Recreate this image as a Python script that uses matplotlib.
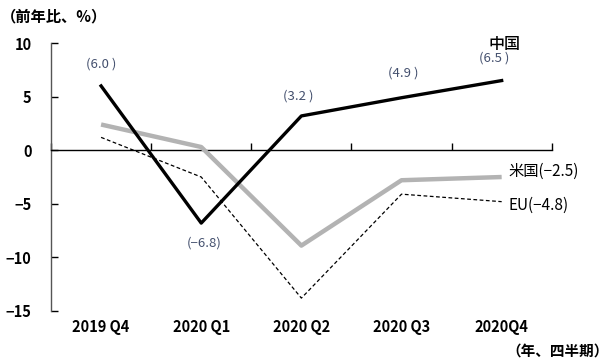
import matplotlib.pyplot as plt
from matplotlib.transforms import blended_transform_factory

plt.rcParams['font.family'] = ['Noto Sans CJK JP', 'DejaVu Sans']

# data
quarters = ['2019 Q4', '2020 Q1', '2020 Q2', '2020 Q3', '2020Q4']
china = [6.0, -6.8, 3.2, 4.9, 6.5]
usa = [2.4, 0.3, -8.9, -2.8, -2.5]
eu = [1.2, -2.5, -13.8, -4.1, -4.8]
china_labels = ['(6.0 )', '(\u22126.8)', '(3.2 )', '(4.9 )', '(6.5 )']
y_ticks = [10, 5, 0, -5, -10, -15]

label_color = '#44506e'

fig = plt.figure(figsize=(6.11, 3.62), dpi=100)
ax = fig.add_axes([0.0835, 0.141, 0.8195, 0.74])

x = list(range(len(quarters)))
ax.plot(x, usa, color='#b3b3b3', lw=3.2, zorder=3, solid_capstyle='butt')
ax.plot(x, eu, color='black', lw=0.9, ls=(0, (3, 2)), zorder=2)
ax.plot(x, china, color='black', lw=2.4, zorder=4)

ax.set_xlim(-0.5, 4.5)
ax.set_ylim(-15, 10)

# axis styling
for s in ['top', 'right']:
    ax.spines[s].set_visible(False)
ax.spines['bottom'].set_position(('data', 0))
ax.spines['bottom'].set_linewidth(1.0)
ax.spines['left'].set_color('#555555')
ax.spines['left'].set_linewidth(1.0)
ax.set_xticks([i - 0.5 for i in range(len(quarters) + 1)])
ax.set_xticklabels([])
ax.tick_params(axis='x', direction='in', length=5, width=1)
ax.set_yticks(y_ticks)
ax.set_yticklabels([str(v).replace('-', '\u2212') for v in y_ticks])
ax.tick_params(axis='y', direction='in', length=5, width=1, pad=14,
               labelsize=10.5)
for t in ax.get_yticklabels():
    t.set_fontweight('bold')

trans = blended_transform_factory(ax.transData, ax.transAxes)
for i, q in enumerate(quarters):
    ax.text(i, -0.06, q, transform=trans, ha='center', va='center',
            fontsize=10.5, fontweight='bold')

# value labels for China
offsets = [(0, 2.0), (0.03, -1.9), (-0.03, 1.9), (0.02, 2.3), (-0.07, 2.1)]
for i, (lab, (dx, dy)) in enumerate(zip(china_labels, offsets)):
    ax.text(i + dx, china[i] + dy, lab, ha='center', va='center',
            fontsize=9.5, color=label_color)

ax.text(4.03, 9.9, '中国', ha='center', va='center', fontsize=11.5,
        fontweight='medium')
ax.text(4.07, usa[-1] + 0.5, '米国(\u22122.5)', ha='left', va='center',
        fontsize=11)
ax.text(4.07, eu[-1] - 0.3, 'EU(\u22124.8)', ha='left', va='center',
        fontsize=11)

fig.text(0.002, 0.955, '（前年比、%）', ha='left', va='center', fontsize=11,
         fontweight='bold')
fig.text(0.997, 0.033, '（年、四半期）', ha='right', va='center', fontsize=10.5,
         fontweight='bold')

fig.savefig('out.png', dpi=100)
